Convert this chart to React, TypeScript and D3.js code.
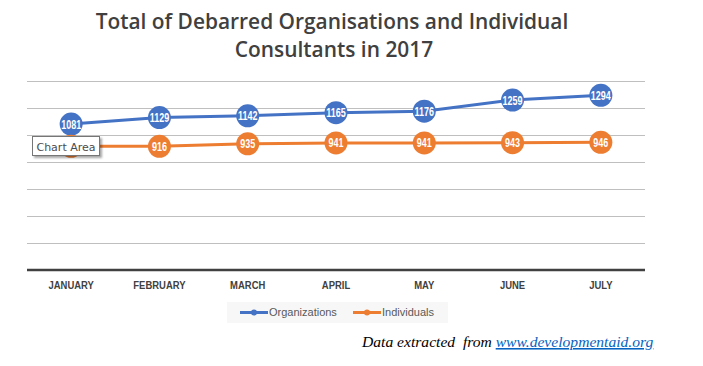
import React from 'react';
import { scaleBand, scaleLinear, line, range } from 'd3';

const months = ['JANUARY', 'FEBRUARY', 'MARCH', 'APRIL', 'MAY', 'JUNE', 'JULY'];
const organizations = [1081, 1129, 1142, 1165, 1176, 1259, 1294];
const individuals = [916, 916, 935, 941, 941, 943, 946];
const yTicks = range(0, 1401, 200);

const series = [
  { name: 'Organizations', values: organizations, color: '#4472c4' },
  { name: 'Individuals', values: individuals, color: '#ed7d31' },
];

const W = 703;
const H = 366;
const sans = "'Liberation Sans', Arial, sans-serif";

function App() {
  const x = scaleBand<string>().domain(months).range([27, 645]);
  const y = scaleLinear().domain([0, 1400]).range([270, 81]);
  const cx = (m: string) => (x(m) ?? 0) + x.bandwidth() / 2;

  const makeLine = line<number>()
    .x((_, i) => cx(months[i]))
    .y((v) => y(v));

  return (
    <svg width={W} height={H} style={{ position: 'absolute', left: 0, top: 0 }}>
      <rect width={W} height={H} fill="#fff" />
      <defs>
        <filter id="shadow" x="-10%" y="-10%" width="130%" height="150%">
          <feDropShadow dx="2" dy="2" stdDeviation="1.2" floodColor="#000" floodOpacity="0.35" />
        </filter>
      </defs>

      {/* title */}
      <g fontFamily="'Open Sans', Lato, sans-serif" fontWeight={600} fontSize={20.9} fill="#404040" textAnchor="middle">
        <text x={332} y={29}>Total of Debarred Organisations and Individual</text>
        <text x={334} y={57}>Consultants in 2017</text>
      </g>

      {/* gridlines */}
      {yTicks.slice(1).map((t) => (
        <line key={t} x1={27} x2={645} y1={y(t) + 0.5} y2={y(t) + 0.5} stroke="#bfbfbf" strokeWidth={1} />
      ))}
      <line x1={27} x2={645} y1={y(0)} y2={y(0)} stroke="#404040" strokeWidth={2.5} />

      {/* x labels */}
      {months.map((m) => (
        <text
          key={m}
          transform={`translate(${cx(m)},289) scale(0.86,1)`}
          textAnchor="middle"
          fontFamily={sans}
          fontWeight="bold"
          fontSize={11}
          fill="#404040"
        >
          {m}
        </text>
      ))}

      {/* series */}
      {series.map((s) => (
        <g key={s.name}>
          <path d={makeLine(s.values) ?? ''} fill="none" stroke={s.color} strokeWidth={3} />
          {s.values.map((v, i) => (
            <g key={i}>
              <circle cx={cx(months[i])} cy={y(v)} r={11.5} fill={s.color} />
              <text
                transform={`translate(${cx(months[i])},${y(v) + 4.5}) scale(0.72,1)`}
                textAnchor="middle"
                fontFamily={sans}
                fontWeight="bold"
                fontSize={12.5}
                fill="#fff"
              >
                {v}
              </text>
            </g>
          ))}
        </g>
      ))}

      {/* legend */}
      <rect x={227} y={302} width={221} height={21} fill="#f7f7f7" />
      {series.map((s, i) => {
        const lx = i === 0 ? 240 : 353;
        return (
          <g key={s.name}>
            <line x1={lx} x2={lx + 28} y1={312.5} y2={312.5} stroke={s.color} strokeWidth={3} />
            <circle cx={lx + 14} cy={312.5} r={3} fill={s.color} />
            <text x={lx + 29} y={316} fontFamily={sans} fontSize={11} fill="#595959">
              {s.name}
            </text>
          </g>
        );
      })}

      {/* tooltip */}
      <g filter="url(#shadow)">
        <rect x={32.5} y={136.5} width={67} height={19} fill="#fff" stroke="#767676" strokeWidth={1} />
      </g>
      <text x={66} y={150.5} textAnchor="middle" fontFamily="'DejaVu Sans', sans-serif" fontSize={11} fill="#4c4c4c">
        Chart Area
      </text>

      {/* footer */}
      <text x={362} y={347} fontFamily="'Liberation Serif', serif" fontStyle="italic" fontSize={15.6} fill="#000">
        Data extracted{'\u00a0'} from{' '}
        <tspan fill="#0563c1" textDecoration="underline">www.developmentaid.org</tspan>
      </text>
    </svg>
  );
}

export default App;
